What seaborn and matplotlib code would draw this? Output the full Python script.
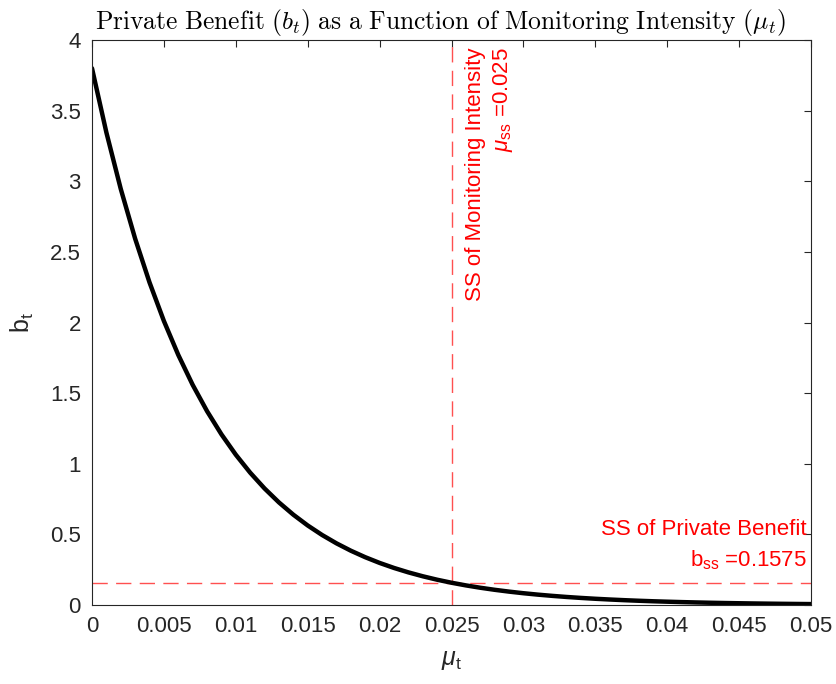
import numpy as np
import pandas as pd
import seaborn as sns
import matplotlib
matplotlib.use("Agg")
import matplotlib.pyplot as plt

# Monitoring intensity grid and the private benefit read at each point
mu_t = [i * 0.001 for i in range(51)]
b_t = [3.8000, 3.3458, 2.9459, 2.5938, 2.2838, 2.0108, 1.7705, 1.5588, 1.3725, 1.2084,
       1.0640, 0.9368, 0.8249, 0.7262, 0.6394, 0.5630, 0.4957, 0.4365, 0.3843, 0.3384,
       0.2979, 0.2623, 0.2310, 0.2034, 0.1790, 0.1576, 0.1388, 0.1222, 0.1076, 0.0947,
       0.0834, 0.0734, 0.0647, 0.0569, 0.0501, 0.0441, 0.0389, 0.0342, 0.0301, 0.0265,
       0.0234, 0.0206, 0.0181, 0.0159, 0.0140, 0.0124, 0.0109, 0.0096, 0.0084, 0.0074,
       0.0065]

# Steady-state values
mu_ss = 0.025
b_ss = 0.1575

x_ticks = [0, 0.005, 0.01, 0.015, 0.02, 0.025, 0.03, 0.035, 0.04, 0.045, 0.05]
x_tick_labels = ["0", "0.005", "0.01", "0.015", "0.02", "0.025", "0.03", "0.035", "0.04", "0.045", "0.05"]
y_ticks = [0, 0.5, 1, 1.5, 2, 2.5, 3, 3.5, 4]
y_tick_labels = ["0", "0.5", "1", "1.5", "2", "2.5", "3", "3.5", "4"]

sns.set_theme(style="white")
plt.rcParams["font.family"] = ["Liberation Sans", "DejaVu Sans"]
plt.rcParams["mathtext.fontset"] = "custom"
plt.rcParams["mathtext.rm"] = "Liberation Sans"
plt.rcParams["mathtext.it"] = "Liberation Sans:italic"

axis_color = "#262626"
ref_red = "#ff5050"

fig = plt.figure(figsize=(8.37, 6.84), dpi=100)
ax = fig.add_axes([0.1099, 0.1155, 0.8591, 0.826])

df = pd.DataFrame({"mu": mu_t, "b": b_t})
sns.lineplot(data=df, x="mu", y="b", ax=ax, color="black", linewidth=3.2, legend=False)

# Steady-state reference lines
ax.axvline(mu_ss, color=ref_red, linestyle=(0, (11, 6)), linewidth=1.0, zorder=1)
ax.axhline(b_ss, color=ref_red, linestyle=(0, (11, 6)), linewidth=1.0, zorder=1)

ax.text(mu_ss + 0.00092, 3.95, "SS of Monitoring Intensity\n" + r"$\mu_\mathregular{ss}$ =0.025",
        rotation=90, ha="left", va="top", multialignment="right",
        color="red", fontsize=16, linespacing=1.3)
ax.text(0.0497, b_ss + 0.075, "SS of Private Benefit\n" + r"$\mathregular{b_{ss}}$ =0.1575",
        ha="right", va="bottom", multialignment="right",
        color="red", fontsize=16, linespacing=1.48)

ax.set_xlim(0, 0.05)
ax.set_ylim(0, 4)
ax.set_xticks(x_ticks)
ax.set_xticklabels(x_tick_labels)
ax.set_yticks(y_ticks)
ax.set_yticklabels(y_tick_labels)

ax.tick_params(direction="in", top=True, right=True, length=5, width=0.8,
               colors=axis_color, labelsize=16, pad=8)
for s in ax.spines.values():
    s.set_color(axis_color)
    s.set_linewidth(0.8)
    s.set_visible(True)

ax.set_xlabel(r"$\mu_\mathregular{t}$", fontsize=18, color=axis_color, labelpad=8)
ax.set_ylabel(r"$\mathregular{b_t}$", fontsize=18, color=axis_color, labelpad=10)

ax.set_title(r"$\mathrm{Private\ Benefit\ (}b_t\mathrm{)\ as\ a\ Function\ of\ Monitoring\ Intensity\ (}\mu_t\mathrm{)}$",
             fontsize=18.4, color="black", pad=8, x=0.485, math_fontfamily="cm")

fig.savefig("out.png", dpi=100)
